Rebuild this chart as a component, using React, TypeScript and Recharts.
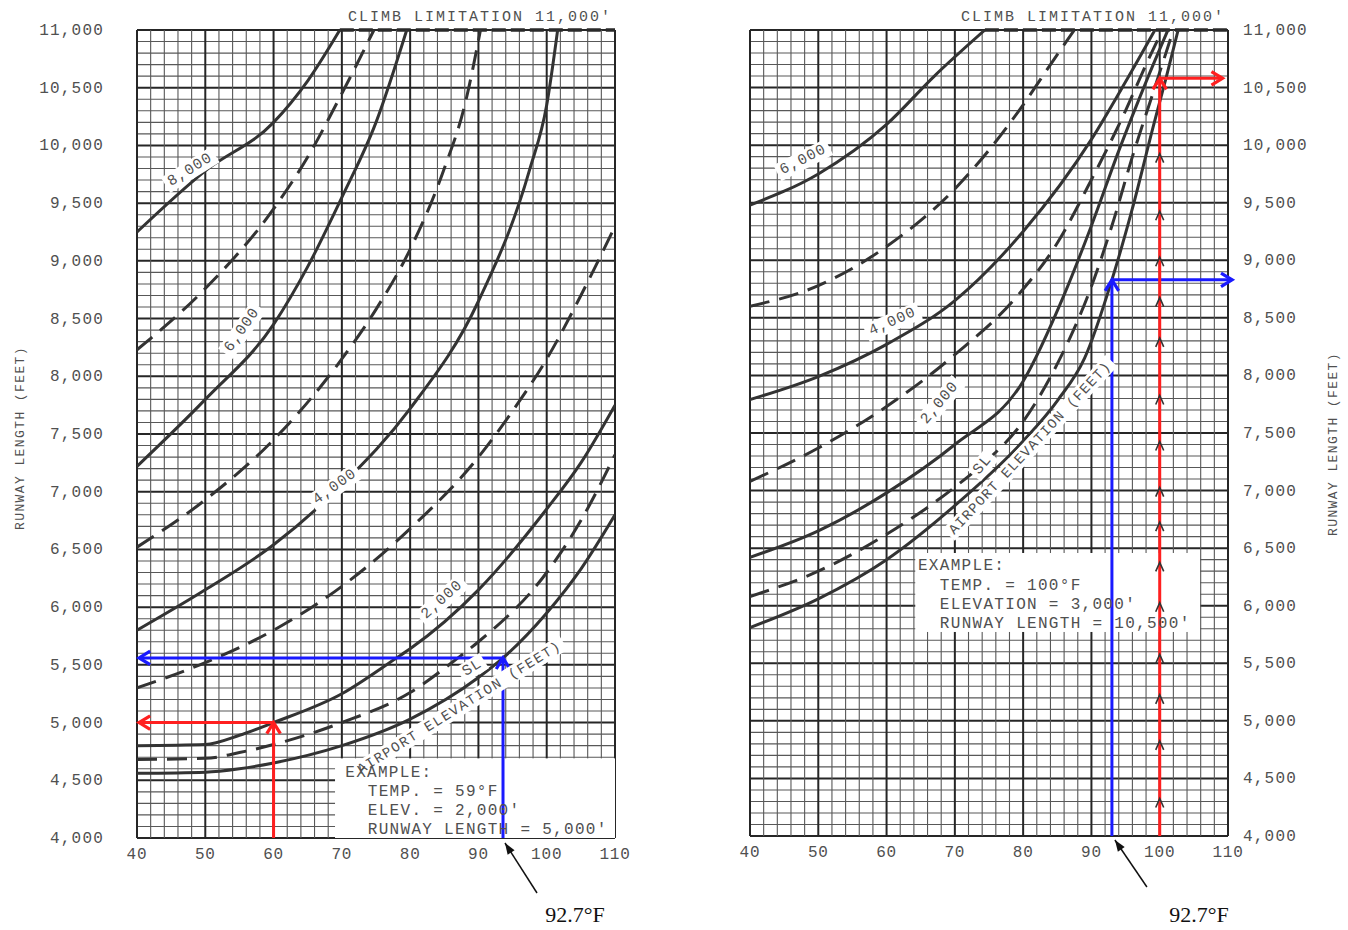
import React from 'react';
import { ComposedChart, Line, XAxis, YAxis, ReferenceLine, ReferenceDot } from 'recharts';

type P = [number, number];

const tempTicks = [40, 50, 60, 70, 80, 90, 100, 110];
const lengthTicks = [4000, 4500, 5000, 5500, 6000, 6500, 7000, 7500, 8000, 8500, 9000, 9500, 10000, 10500, 11000];

// ---------- Left chart curves (temperature °F, runway length ft) ----------
const leftSL: P[] = [[40, 4560], [50, 4570], [55, 4600], [60, 4650], [70, 4800], [80, 5030], [90, 5390], [93.6, 5560], [100, 5950], [105, 6330], [110, 6800]];
const left1000: P[] = [[40, 4680], [50, 4690], [55, 4740], [60, 4810], [70, 5000], [80, 5260], [87, 5560], [90, 5700], [100, 6300], [105, 6750], [110, 7320]];
const left2000: P[] = [[40, 4800], [50, 4810], [55, 4890], [60, 5000], [70, 5250], [78, 5560], [80, 5640], [90, 6150], [100, 6850], [105, 7250], [110, 7750]];
const left3000: P[] = [[40, 5300], [50, 5520], [60, 5800], [70, 6180], [80, 6680], [90, 7300], [95, 7700], [100, 8150], [105, 8700], [110, 9300]];
const left4000: P[] = [[40, 5800], [50, 6150], [60, 6540], [70, 7060], [80, 7720], [90, 8650], [97.5, 9790], [100, 10350], [101.6, 11000]];
const left5000: P[] = [[40, 6520], [50, 6930], [60, 7450], [70, 8150], [75, 8580], [80, 9100], [85, 9800], [88, 10350], [90.3, 11000]];
const left6000: P[] = [[40, 7220], [50, 7800], [60, 8450], [65, 8950], [70, 9550], [75, 10200], [79.5, 11000]];
const left7000: P[] = [[40, 8230], [50, 8760], [60, 9450], [65, 9900], [70, 10450], [74.7, 11000]];
const left8000: P[] = [[40, 9250], [50, 9780], [60, 10200], [65, 10560], [69.7, 11000]];

// ---------- Right chart curves ----------
const rightSL: P[] = [[40, 5810], [50, 6060], [60, 6400], [70, 6870], [80, 7430], [85, 7780], [89, 8150], [93, 8830], [96, 9450], [99, 10150], [101, 10600], [102.7, 11000]];
const right1000: P[] = [[40, 6080], [50, 6300], [60, 6620], [70, 7030], [74, 7225], [80, 7600], [85, 8100], [89.8, 8742], [93, 9300], [96, 9900], [99, 10450], [102, 11000]];
const right2000: P[] = [[40, 6420], [50, 6650], [60, 6980], [70, 7400], [80, 7950], [86, 8700], [90, 9300], [94, 9950], [98, 10550], [101.2, 11000]];
const right3000: P[] = [[40, 7080], [50, 7370], [60, 7730], [70, 8180], [79, 8680], [85, 9150], [90, 9700], [95, 10300], [98, 10700], [100.4, 11000]];
const right4000: P[] = [[40, 7790], [50, 7990], [60, 8270], [70, 8650], [80, 9250], [90, 10050], [95, 10550], [99.3, 11000]];
const right5000: P[] = [[40, 8600], [50, 8780], [60, 9120], [70, 9620], [80, 10350], [84, 10700], [87.5, 11000]];
const right6000: P[] = [[40, 9480], [50, 9750], [60, 10180], [67, 10600], [74.4, 11000]];

// climb limitation start points
const leftClimbStart = 69.7;
const rightClimbStart = 74.4;

// example read-offs
const leftRed = { t: 60, l: 5000 };
const leftBlue = { t: 93.6, l: 5560 };
const rightBlue = { t: 93, l: 8830 };
const rightRed = { t: 100, l: 10580 };
const rightRedMarks = [4300, 4800, 5200, 5550, 6000, 6350, 6700, 7000, 7400, 7800, 8300, 8650, 9000, 9400, 9900];

const FONT = "'Liberation Mono', 'DejaVu Sans Mono', monospace";
const SERIF = "'Liberation Serif', 'DejaVu Serif', serif";
const INK = '#333';
const TXT = '#505050';
const RED = '#ff1f1f';
const BLUE = '#1a1aff';

type Curve = { pts: P[]; dashed: boolean };
type Lab = { t: number; l: number; text: string; angle: number; size?: number; ls?: number };

const leftCurves: Curve[] = [
  { pts: leftSL, dashed: false }, { pts: left1000, dashed: true }, { pts: left2000, dashed: false },
  { pts: left3000, dashed: true }, { pts: left4000, dashed: false }, { pts: left5000, dashed: true },
  { pts: left6000, dashed: false }, { pts: left7000, dashed: true }, { pts: left8000, dashed: false },
];
const rightCurves: Curve[] = [
  { pts: rightSL, dashed: false }, { pts: right1000, dashed: true }, { pts: right2000, dashed: false },
  { pts: right3000, dashed: true }, { pts: right4000, dashed: false }, { pts: right5000, dashed: true },
  { pts: right6000, dashed: false },
];

const leftLabels: Lab[] = [
  { t: 47.8, l: 9787, text: '8,000', angle: -32 },
  { t: 55.4, l: 8401, text: '6,000', angle: -55 },
  { t: 69, l: 7041, text: '4,000', angle: -36 },
  { t: 84.7, l: 6062, text: '2,000', angle: -42 },
  { t: 89.1, l: 5473, text: 'SL', angle: -32 },
  { t: 87.2, l: 5130, text: "AIRPORT ELEVATION (FEET)", angle: -32, size: 14, ls: 1.5 },
];
const rightLabels: Lab[] = [
  { t: 47.8, l: 9871, text: '6,000', angle: -27 },
  { t: 60.9, l: 8464, text: '4,000', angle: -24 },
  { t: 67.8, l: 7760, text: '2,000', angle: -50 },
  { t: 74.1, l: 7222, text: 'SL', angle: -50 },
  { t: 81, l: 7370, text: "AIRPORT ELEVATION (FEET)", angle: -47, size: 14, ls: 1.2 },
];

const leftExample = { x1: 69, x2: 110, y1: 4000, y2: 4690, tx: 70.5, tx2: 73.8, ys: [4572, 4408, 4243, 4079],
  lines: ['EXAMPLE:', 'TEMP. = 59°F', "ELEV. = 2,000'", "RUNWAY LENGTH = 5,000'"] };
const rightExample = { x1: 64.2, x2: 105.9, y1: 5772, y2: 6458, tx: 64.6, tx2: 67.8, ys: [6354, 6180, 6015, 5850],
  lines: ['EXAMPLE:', 'TEMP. = 100°F', "ELEVATION = 3,000'", "RUNWAY LENGTH = 10,500'"] };

const minorT: number[] = [];
for (let t = 40; t <= 110; t += 2) minorT.push(t);
const minorL: number[] = [];
for (let l = 4000; l <= 11000; l += 100) minorL.push(l);

const XTick = (p: any) => (
  <text x={p.x} y={p.y + 21} textAnchor="middle" fontFamily={FONT} fontSize={16} letterSpacing={0.8} fill={TXT}>{p.payload.value}</text>
);
const YTick = (p: any) => {
  const s = p.payload.value.toLocaleString('en-US');
  return p.side === 'left'
    ? <text x={p.x - 33} y={p.y + 5} textAnchor="end" fontFamily={FONT} fontSize={16} letterSpacing={1.2} fill={TXT}>{s}</text>
    : <text x={p.x + 15} y={p.y + 5} textAnchor="start" fontFamily={FONT} fontSize={16} letterSpacing={1.2} fill={TXT}>{s}</text>;
};

const CurveLabel = (p: any) => {
  const size = p.size || 15;
  const ls = p.ls ?? 1;
  const w = p.text.length * (size * 0.6 + ls) + 8;
  const h = size * 1.2;
  return (
    <g transform={`translate(${p.cx},${p.cy}) rotate(${p.angle})`}>
      <rect x={-w / 2} y={-h / 2} width={w} height={h} fill="#fff" />
      <text textAnchor="middle" dominantBaseline="central" fontFamily={FONT} fontSize={size} letterSpacing={ls} fill={TXT}>{p.text}</text>
    </g>
  );
};

const ArrowLine = (p: any) => {
  const { x1, y1, x2, y2, color } = p;
  const a = Math.atan2(y2 - y1, x2 - x1);
  const L = 13, W = 0.55;
  const ax = x2 - L * Math.cos(a - W), ay = y2 - L * Math.sin(a - W);
  const bx = x2 - L * Math.cos(a + W), by = y2 - L * Math.sin(a + W);
  return (
    <g>
      <line x1={x1} y1={y1} x2={x2} y2={y2} stroke={color} strokeWidth={3} />
      <polyline points={`${ax},${ay} ${x2},${y2} ${bx},${by}`} fill="none" stroke={color} strokeWidth={3.2} strokeLinejoin="miter" />
    </g>
  );
};

const BoxShape = (p: any) => {
  const x = Math.min(p.x1, p.x2), y = Math.min(p.y1, p.y2);
  return <rect x={x} y={y} width={Math.abs(p.x2 - p.x1)} height={Math.abs(p.y2 - p.y1)} fill="#fff" />;
};

const SmallMark = (p: any) => (
  <polyline points={`${p.cx - 4},${p.cy + 6} ${p.cx},${p.cy - 3} ${p.cx + 4},${p.cy + 6}`} fill="none" stroke="#333" strokeWidth={1.6} />
);

const Note = (p: any) => {
  const { cx, cy, tip, tail, txt } = p;
  const x2 = cx + tip[0], y2 = cy + tip[1], x1 = cx + tail[0], y1 = cy + tail[1];
  const a = Math.atan2(y2 - y1, x2 - x1);
  const L = 12, W = 0.35;
  return (
    <g>
      <line x1={x1} y1={y1} x2={x2} y2={y2} stroke="#111" strokeWidth={1.5} />
      <polygon points={`${x2},${y2} ${x2 - L * Math.cos(a - W)},${y2 - L * Math.sin(a - W)} ${x2 - L * Math.cos(a + W)},${y2 - L * Math.sin(a + W)}`} fill="#111" />
      <text x={cx + txt[0]} y={cy + txt[1]} textAnchor="middle" fontFamily={SERIF} fontSize={22} fill="#111">92.7°F</text>
    </g>
  );
};

type ChartProps = {
  side: 'left' | 'right';
  curves: Curve[];
  labels: Lab[];
  example: typeof leftExample;
  climbStart: number;
  arrows: { from: P; to: P; color: string }[];
  marks: number[];
  noteAt: P;
  tip: P; tail: P; txt: P;
};

function Chart(props: ChartProps) {
  const { side, curves, labels, example, climbStart, arrows, marks, noteAt } = props;
  const isLeft = side === 'left';
  const margin = isLeft ? { top: 30, right: 65, bottom: 62, left: 37 } : { top: 30, right: 20, bottom: 64, left: 70 };
  const titleContent = (lp: any) => {
    const vb = lp.viewBox;
    const x = isLeft ? vb.x - 17 : vb.x + 105;
    const y = vb.y + vb.height / 2 + (isLeft ? 4 : 11);
    return (
      <text x={x} y={y} transform={`rotate(-90 ${x} ${y})`} textAnchor="middle" dominantBaseline="central" fontFamily={FONT} fontSize={13} letterSpacing={1.4} fill={TXT}>RUNWAY LENGTH (FEET)</text>
    );
  };
  return (
    <ComposedChart width={isLeft ? 680 : 668} height={930} margin={margin}>
      <XAxis type="number" dataKey="x" domain={[40, 110]} ticks={tempTicks} interval={0} allowDataOverflow
        axisLine={false} tickLine={false} tickSize={0} tickMargin={0} height={30} tick={<XTick />} />
      <YAxis type="number" domain={[4000, 11000]} ticks={lengthTicks} interval={0} allowDataOverflow
        orientation={isLeft ? 'left' : 'right'} width={100} axisLine={false} tickLine={false} tickSize={0} tickMargin={0}
        tick={<YTick side={side} />} label={{ content: titleContent }} />
      {minorL.map((l) => (
        <ReferenceLine key={'h' + l} y={l} stroke={l % 500 === 0 ? '#262626' : '#585858'} strokeWidth={l % 500 === 0 ? 2 : 1.1} ifOverflow="visible" />
      ))}
      {minorT.map((t) => (
        <ReferenceLine key={'v' + t} x={t} stroke={t % 10 === 0 ? '#262626' : '#585858'} strokeWidth={t % 10 === 0 ? 2 : 1.1} ifOverflow="visible" />
      ))}
      <ReferenceLine segment={[{ x: climbStart, y: 11000 }, { x: 110, y: 11000 }]} stroke="#2a2a2a" strokeWidth={3.5} strokeDasharray="14 5" ifOverflow="visible" />
      <ReferenceDot x={110} y={11000} r={0} ifOverflow="visible"
        shape={(p: any) => <text x={p.cx - 3} y={p.cy - 9} textAnchor="end" fontFamily={FONT} fontSize={15} letterSpacing={2} fill={TXT}>CLIMB LIMITATION 11,000'</text>} />
      {curves.map((c, i) => (
        <Line key={'c' + i} data={c.pts.map(([x, y]) => ({ x, y }))} dataKey="y" type="monotone" stroke={INK}
          strokeWidth={3} strokeDasharray={c.dashed ? '20 10' : undefined} dot={false} activeDot={false} isAnimationActive={false} />
      ))}
      {labels.map((lb, i) => (
        <ReferenceDot key={'lb' + i} x={lb.t} y={lb.l} r={0} ifOverflow="visible"
          shape={(p: any) => <CurveLabel cx={p.cx} cy={p.cy} text={lb.text} angle={lb.angle} size={lb.size} ls={lb.ls} />} />
      ))}
      <ReferenceLine segment={[{ x: example.x1, y: example.y2 }, { x: example.x2, y: example.y1 }]} ifOverflow="visible"
        shape={(p: any) => <BoxShape {...p} />} />
      {example.lines.map((s, i) => (
        <ReferenceDot key={'ex' + i} x={i === 0 ? example.tx : example.tx2} y={example.ys[i]} r={0} ifOverflow="visible"
          shape={(p: any) => <text x={p.cx} y={p.cy + 5} fontFamily={FONT} fontSize={16} letterSpacing={1.3} fill={TXT}>{s}</text>} />
      ))}
      {arrows.map((a, i) => (
        <ReferenceLine key={'ar' + i} segment={[{ x: a.from[0], y: a.from[1] }, { x: a.to[0], y: a.to[1] }]} ifOverflow="visible"
          shape={(p: any) => <ArrowLine {...p} color={a.color} />} />
      ))}
      {marks.map((m, i) => (
        <ReferenceDot key={'mk' + i} x={rightRed.t} y={m} r={0} ifOverflow="visible" shape={(p: any) => <SmallMark cx={p.cx} cy={p.cy} />} />
      ))}
      <ReferenceDot x={noteAt[0]} y={noteAt[1]} r={0} ifOverflow="visible"
        shape={(p: any) => <Note cx={p.cx} cy={p.cy} tip={props.tip} tail={props.tail} txt={props.txt} />} />
    </ComposedChart>
  );
}

export default function App() {
  return (
    <div style={{ position: 'absolute', left: 0, top: 0, width: 1348, height: 930, background: '#fff', overflow: 'hidden' }}>
      <div style={{ position: 'absolute', left: 0, top: 0 }}>
        <Chart side="left" curves={leftCurves} labels={leftLabels} example={leftExample} climbStart={leftClimbStart}
          arrows={[
            { from: [leftRed.t, 4000], to: [leftRed.t, leftRed.l], color: RED },
            { from: [leftRed.t, leftRed.l], to: [40.3, leftRed.l], color: RED },
            { from: [leftBlue.t, 4000], to: [leftBlue.t, leftBlue.l], color: BLUE },
            { from: [leftBlue.t, leftBlue.l], to: [40.3, leftBlue.l], color: BLUE },
          ]}
          marks={[]} noteAt={[leftBlue.t, 4000]} tip={[2, 5]} tail={[34, 55]} txt={[72, 84]} />
      </div>
      <div style={{ position: 'absolute', left: 680, top: 0 }}>
        <Chart side="right" curves={rightCurves} labels={rightLabels} example={rightExample} climbStart={rightClimbStart}
          arrows={[
            { from: [rightBlue.t, 4000], to: [rightBlue.t, rightBlue.l], color: BLUE },
            { from: [rightBlue.t, rightBlue.l], to: [110.6, rightBlue.l], color: BLUE },
            { from: [rightRed.t, 4000], to: [rightRed.t, rightRed.l], color: RED },
            { from: [rightRed.t, rightRed.l], to: [109.2, rightRed.l], color: RED },
          ]}
          marks={rightRedMarks} noteAt={[rightBlue.t, 4000]} tip={[3, 4]} tail={[35, 51]} txt={[87, 86]} />
      </div>
    </div>
  );
}
